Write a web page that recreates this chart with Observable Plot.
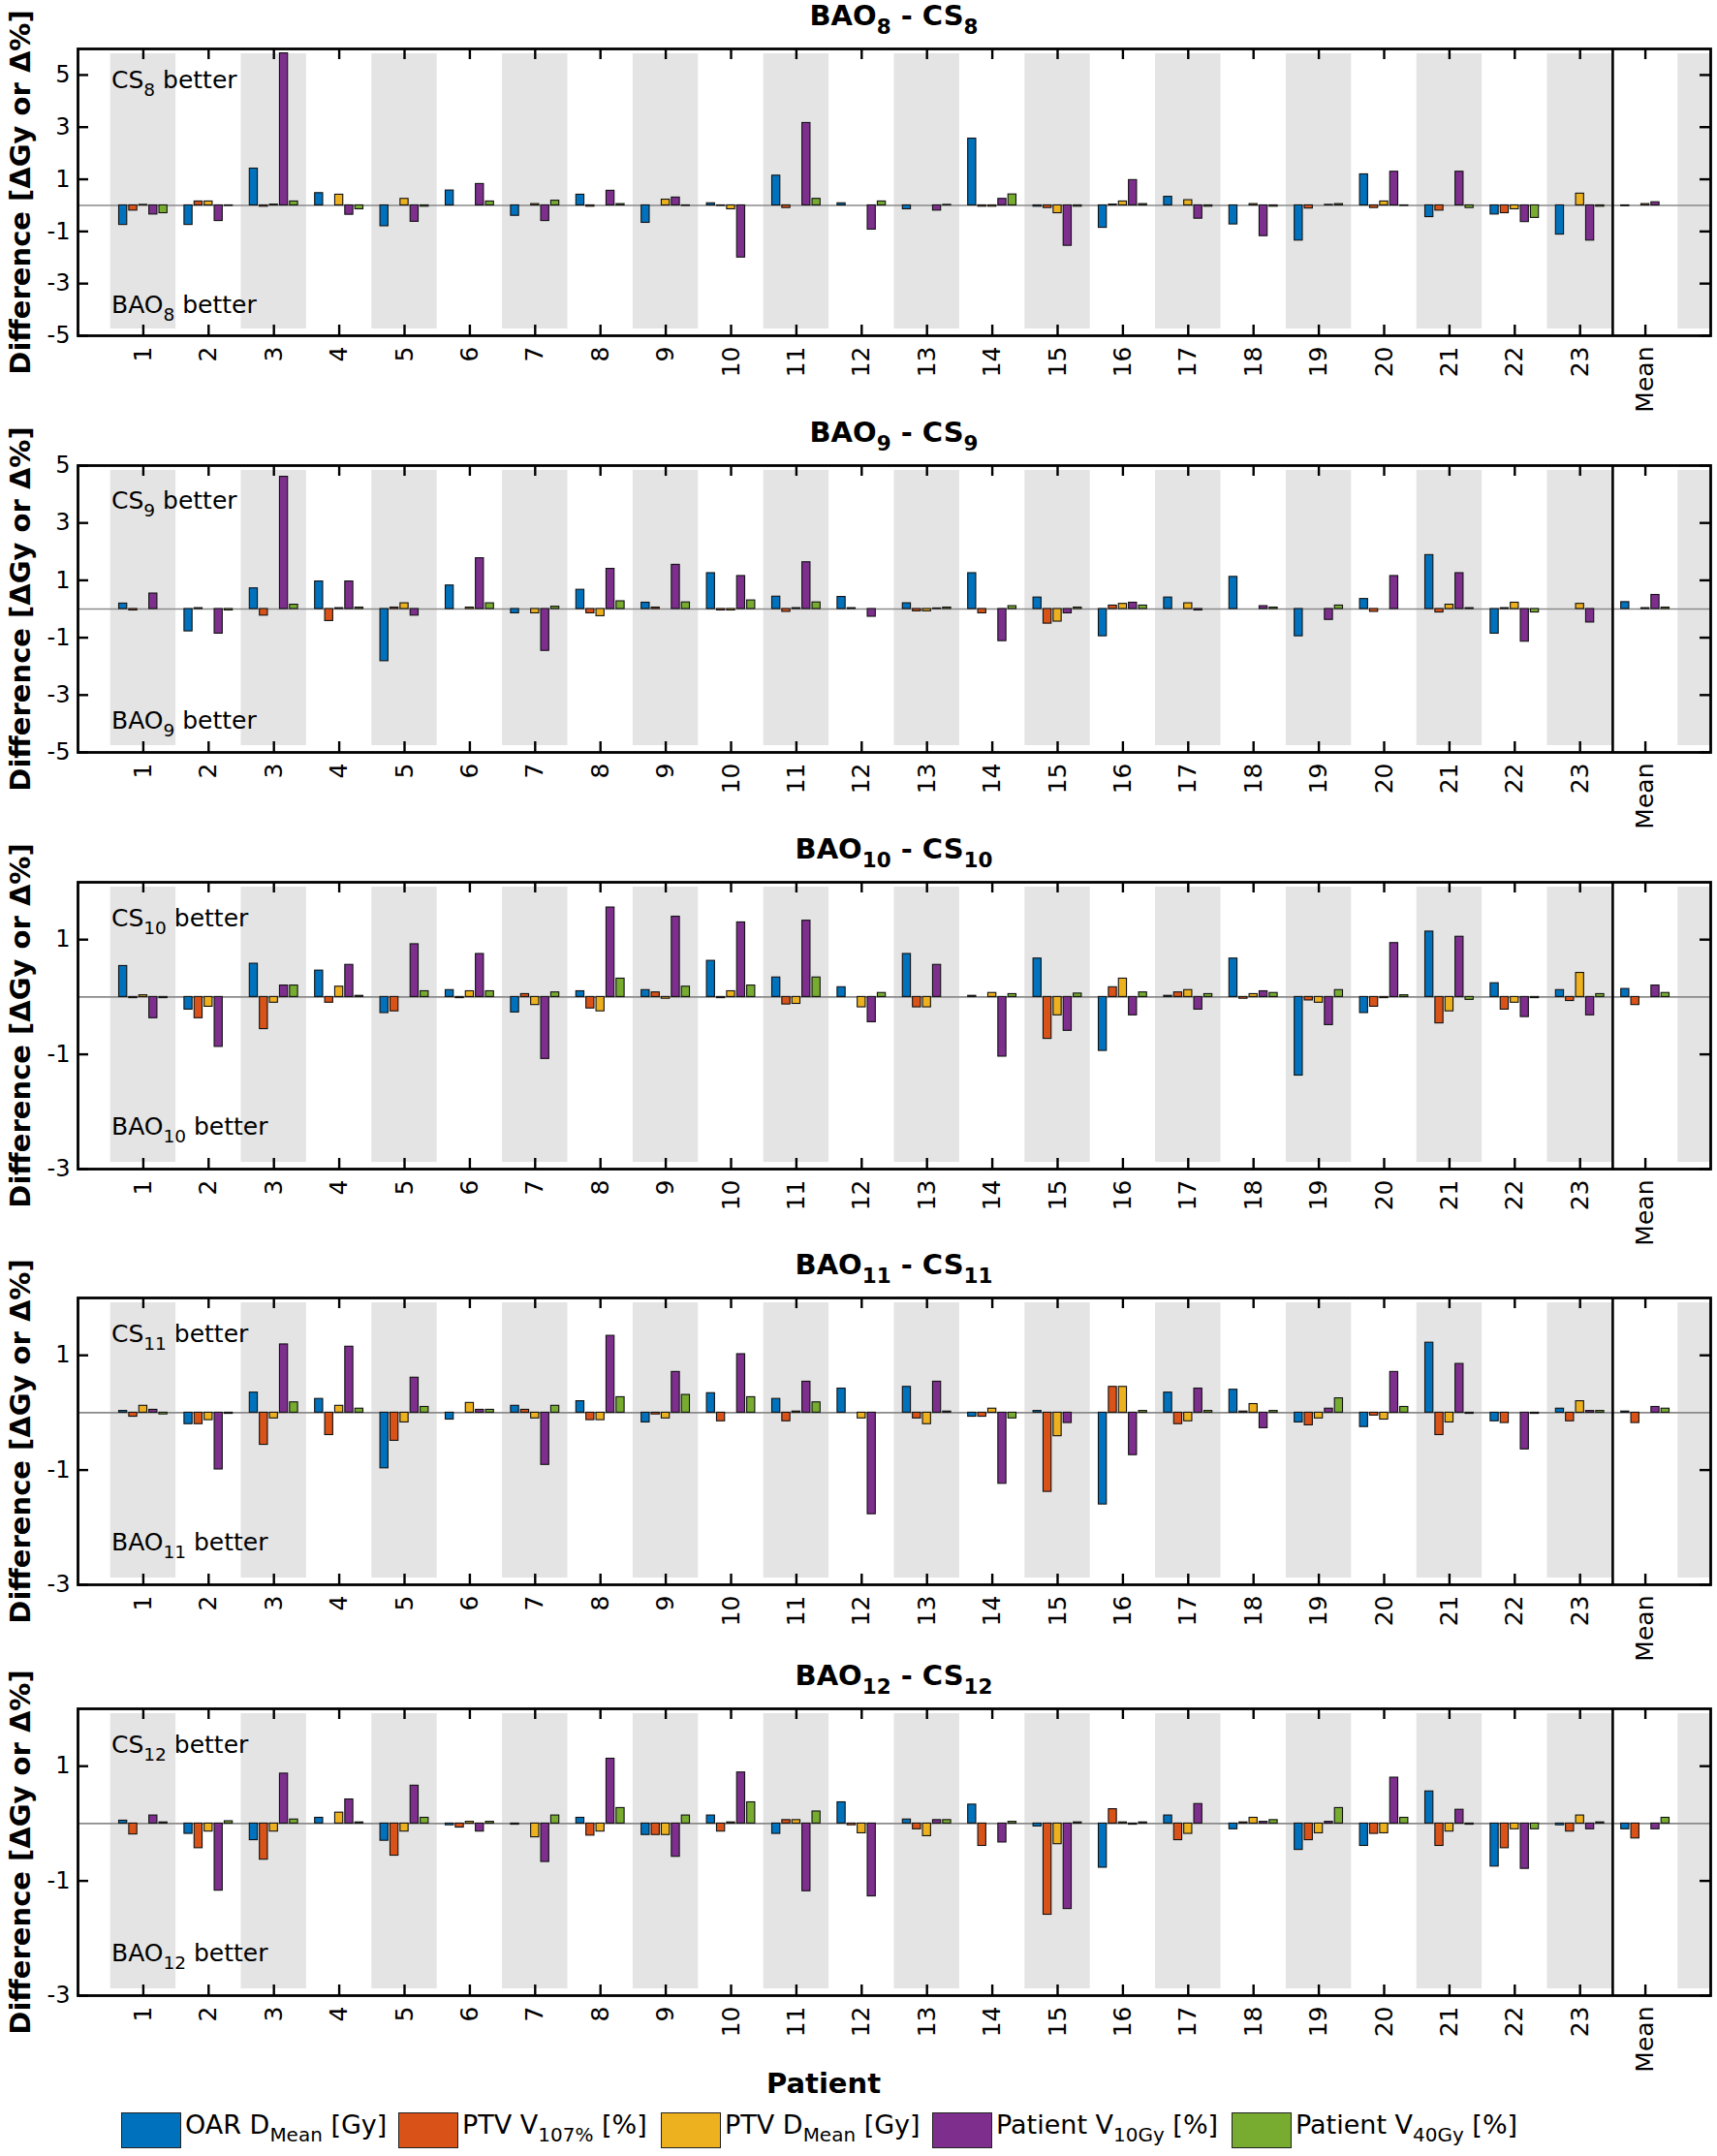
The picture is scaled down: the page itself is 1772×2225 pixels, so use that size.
<!DOCTYPE html>
<html>
<head>
<meta charset="utf-8">
<script src="https://cdn.jsdelivr.net/npm/d3@7"></script>
<script src="https://cdn.jsdelivr.net/npm/@observablehq/plot@0.6"></script>
<style>
  html, body { margin: 0; padding: 0; background: #fff; }
  body { width: 1772px; height: 2225px; position: relative; overflow: hidden; font-family: "DejaVu Sans", sans-serif; color: #000; }
  .panel { position: absolute; left: 0; }
  .ov { position: absolute; white-space: nowrap; line-height: 1; }
  .ov sub { vertical-align: -0.42em; font-size: 0.74em; line-height: 0; }
  .title { font-weight: bold; font-size: 29px; transform: translateX(-50%); }
  .annot { font-size: 25px; }
  .leg-box { position: absolute; width: 60px; height: 35px; border: 1.5px solid #222; }
  .leg-text { font-size: 27px; }
</style>
</head>
<body>
<script>
// ---------------- DATA ----------------
const patients = ["1","2","3","4","5","6","7","8","9","10","11","12","13","14","15","16","17","18","19","20","21","22","23","Mean"];
const seriesNames = ["OAR DMean [Gy]", "PTV V107% [%]", "PTV DMean [Gy]", "Patient V10Gy [%]", "Patient V40Gy [%]"];
const legendMain = ["OAR D", "PTV V", "PTV D", "Patient V", "Patient V"];
const legendSub = ["Mean", "107%", "Mean", "10Gy", "40Gy"];
const legendUnit = ["[Gy]", "[%]", "[Gy]", "[%]", "[%]"];
const seriesColors = ["#0072BD", "#D95319", "#EDB120", "#7E2F8E", "#77AC30"];
const panelSubs = ["8", "9", "10", "11", "12"];
const yDomains = [[-5, 6], [-5, 5], [-3, 2], [-3, 2], [-3, 2]];
const yTickValues = [[-5, -3, -1, 1, 3, 5], [-5, -3, -1, 1, 3, 5], [-3, -1, 1], [-3, -1, 1], [-3, -1, 1]];

// BAO8 - CS8
const bao8_oar    = [-0.75,-0.75,1.41,0.47,-0.8,0.57,-0.4,0.41,-0.67,0.08,1.14,0.08,-0.15,2.56,-0.05,-0.86,0.33,-0.73,-1.35,1.19,-0.45,-0.35,-1.12,-0.03];
const bao8_ptv107 = [-0.2,0.15,-0.05,0,0,0,0,-0.05,0,-0.02,-0.1,0,0,-0.05,-0.1,0.03,0,0,-0.12,-0.1,-0.2,-0.3,0,0];
const bao8_ptvD   = [0.02,0.15,0.03,0.41,0.25,0,0.05,0,0.22,-0.15,0,0,0,-0.05,-0.3,0.15,0.2,0.05,0,0.15,0,-0.15,0.45,0.05];
const bao8_v10    = [-0.35,-0.6,5.83,-0.36,-0.63,0.82,-0.6,0.56,0.3,-2.0,3.16,-0.93,-0.2,0.25,-1.55,0.97,-0.51,-1.18,0.02,1.29,1.29,-0.64,-1.35,0.12];
const bao8_v40    = [-0.3,-0.02,0.15,-0.15,-0.05,0.15,0.18,0.05,-0.02,0,0.25,0.15,0.02,0.42,-0.05,0.05,-0.05,-0.05,0.05,-0.02,-0.1,-0.48,-0.05,0];

// BAO9 - CS9
const bao9_oar    = [0.19,-0.78,0.72,0.96,-1.82,0.82,-0.15,0.67,0.22,1.25,0.43,0.42,0.2,1.25,0.4,-0.95,0.4,1.12,-0.95,0.35,1.88,-0.86,0,0.24];
const bao9_ptv107 = [-0.05,0.03,-0.23,-0.42,0.05,0,0,-0.15,0.05,-0.05,-0.1,0.03,-0.08,-0.15,-0.51,0.12,0,0,0,-0.1,-0.12,0.03,0,0];
const bao9_ptvD   = [0,0,0,0.03,0.2,0.05,-0.15,-0.25,0,-0.05,0.03,0,-0.08,0,-0.44,0.18,0.2,0,0,0,0.15,0.22,0.18,0.03];
const bao9_v10    = [0.54,-0.86,4.61,0.96,-0.23,1.77,-1.46,1.4,1.54,1.15,1.63,-0.27,0.02,-1.12,-0.15,0.22,-0.05,0.1,-0.38,1.15,1.25,-1.14,-0.47,0.49];
const bao9_v40    = [0,-0.05,0.15,0.05,0,0.2,0.08,0.27,0.23,0.3,0.23,0,0.05,0.1,0.05,0.12,0,0.05,0.12,0,0.03,-0.12,0,0.05];

// BAO10 - CS10
const bao10_oar    = [0.54,-0.22,0.58,0.46,-0.28,0.12,-0.27,0.1,0.12,0.63,0.34,0.17,0.75,0.02,0.67,-0.94,0.02,0.67,-1.37,-0.28,1.14,0.24,0.12,0.14];
const bao10_ptv107 = [-0.02,-0.37,-0.56,-0.1,-0.25,-0.02,0.05,-0.2,0.08,-0.02,-0.13,0,-0.18,0,-0.73,0.17,0.08,-0.03,-0.06,-0.17,-0.46,-0.22,-0.07,-0.14];
const bao10_ptvD   = [0.03,-0.17,-0.1,0.18,0,0.1,-0.14,-0.25,-0.03,0.1,-0.12,-0.18,-0.18,0.07,-0.32,0.32,0.12,0.05,-0.1,-0.02,-0.25,-0.1,0.42,0];
const bao10_v10    = [-0.37,-0.87,0.2,0.56,0.92,0.75,-1.08,1.56,1.4,1.3,1.33,-0.44,0.56,-1.04,-0.59,-0.32,-0.22,0.1,-0.49,0.94,1.05,-0.35,-0.32,0.2];
const bao10_v40    = [-0.02,0,0.2,0.02,0.1,0.1,0.08,0.32,0.18,0.2,0.34,0.07,0,0.05,0.06,0.08,0.05,0.07,0.12,0.03,-0.05,-0.02,0.05,0.07];

// BAO11 - CS11
const bao11_oar    = [0.03,-0.2,0.35,0.24,-0.97,-0.12,0.12,0.2,-0.17,0.34,0.24,0.42,0.45,-0.07,0.03,-1.6,0.35,0.4,-0.17,-0.25,1.22,-0.15,0.07,0.02];
const bao11_ptv107 = [-0.07,-0.2,-0.56,-0.39,-0.49,0,0.05,-0.13,-0.03,-0.15,-0.15,0,-0.1,-0.07,-1.38,0.45,-0.2,0.02,-0.22,-0.05,-0.39,-0.18,-0.15,-0.18];
const bao11_ptvD   = [0.12,-0.13,-0.1,0.12,-0.17,0.17,-0.1,-0.13,-0.1,0,0.02,-0.1,-0.2,0.07,-0.41,0.45,-0.15,0.15,-0.1,-0.12,-0.17,0,0.2,0];
const bao11_v10    = [0.05,-0.99,1.19,1.15,0.61,0.05,-0.91,1.34,0.71,1.02,0.54,-1.77,0.54,-1.24,-0.18,-0.74,0.42,-0.27,0.07,0.71,0.85,-0.64,0.03,0.1];
const bao11_v40    = [-0.03,-0.02,0.18,0.07,0.1,0.05,0.12,0.27,0.31,0.27,0.18,0,0.02,-0.1,0,0.03,0.03,0.03,0.25,0.1,-0.02,-0.02,0.03,0.07];

// BAO12 - CS12
const bao12_oar    = [0.05,-0.18,-0.29,0.1,-0.3,-0.03,-0.02,0.1,-0.2,0.14,-0.18,0.37,0.07,0.33,-0.05,-0.77,0.14,-0.1,-0.46,-0.39,0.56,-0.75,-0.03,-0.1];
const bao12_ptv107 = [-0.19,-0.43,-0.63,0,-0.56,-0.07,0,-0.21,-0.2,-0.14,0.06,-0.03,-0.1,-0.39,-1.59,0.25,-0.29,0.02,-0.29,-0.18,-0.39,-0.43,-0.14,-0.26];
const bao12_ptvD   = [0,-0.14,-0.14,0.19,-0.14,0.03,-0.24,-0.14,-0.2,0.02,0.06,-0.17,-0.22,0,-0.36,0.02,-0.18,0.1,-0.17,-0.17,-0.14,-0.1,0.14,0];
const bao12_v10    = [0.14,-1.17,0.87,0.42,0.66,-0.14,-0.67,1.13,-0.58,0.89,-1.18,-1.27,0.06,-0.33,-1.49,-0.02,0.34,0.03,0.03,0.8,0.24,-0.79,-0.1,-0.1];
const bao12_v40    = [0.02,0.04,0.07,0.02,0.1,0.03,0.14,0.27,0.14,0.37,0.21,0,0.06,0.03,0.02,0.02,0,0.06,0.27,0.1,-0.02,-0.1,0.02,0.1];

const panelData = [
  [bao8_oar, bao8_ptv107, bao8_ptvD, bao8_v10, bao8_v40],
  [bao9_oar, bao9_ptv107, bao9_ptvD, bao9_v10, bao9_v40],
  [bao10_oar, bao10_ptv107, bao10_ptvD, bao10_v10, bao10_v40],
  [bao11_oar, bao11_ptv107, bao11_ptvD, bao11_v10, bao11_v40],
  [bao12_oar, bao12_ptv107, bao12_ptvD, bao12_v10, bao12_v40]
];

// ---------------- LAYOUT ----------------
const W = 1772, PH = 428, MT = 50, MB = 82, ML = 80, MR = 7;
const frameH = PH - MT - MB;
const xDomain = [0, 25];
const pxPerX = (W - ML - MR) / (xDomain[1] - xDomain[0]);
const panelTops = [0, 430, 860, 1289, 1713];
const annTop = [31, 35, 36, 36, 36];
const annBot = [33, 34, 45, 45, 45];
const barStep = 0.154, barW = 0.123;
const bandCenters = d3.range(1, 26, 2);

function overlay(html, cls, left, top) {
  const d = document.createElement("div");
  d.className = "ov " + cls;
  d.innerHTML = html;
  d.style.left = left + "px";
  d.style.top = top + "px";
  document.body.appendChild(d);
  return d;
}

panelData.forEach((series, k) => {
  const dom = yDomains[k];
  const span = dom[1] - dom[0];
  const pxPerY = frameH / span;
  const rows = [];
  series.forEach((vals, si) => vals.forEach((v, pi) => rows.push({pos: pi + 1, si, name: seriesNames[si], v})));
  const tickLenX = 11 / pxPerX;
  const tickLenY = 11 / pxPerY;
  const xtPos = d3.range(1, 25);

  const chart = Plot.plot({
    width: W, height: PH,
    marginTop: MT, marginBottom: MB, marginLeft: ML, marginRight: MR,
    style: {fontFamily: "DejaVu Sans", background: "transparent", overflow: "visible"},
    x: {domain: xDomain, axis: null},
    y: {domain: dom, axis: null},
    color: {domain: seriesNames, range: seriesColors},
    marks: [
      Plot.rect(bandCenters, {x1: d => d - 0.5, x2: d => d + 0.5, fill: "#e4e4e4", insetTop: 5, insetBottom: 7, clip: true}),
      Plot.ruleY([0], {stroke: "#8a8a8a", strokeWidth: 1.6}),
      Plot.rect(rows, {
        x1: d => d.pos + (d.si - 2) * barStep - barW / 2,
        x2: d => d.pos + (d.si - 2) * barStep + barW / 2,
        y1: 0, y2: "v", fill: "name", stroke: "#111", strokeWidth: 1.1
      }),
      Plot.ruleX([23.5], {stroke: "#000", strokeWidth: 2.6}),
      // inward ticks bottom / top
      Plot.ruleX(xtPos, {y1: dom[0], y2: dom[0] + tickLenY, stroke: "#000", strokeWidth: 2.4}),
      Plot.ruleX(xtPos, {y1: dom[1], y2: dom[1] - tickLenY, stroke: "#000", strokeWidth: 2.4}),
      // inward ticks left / right
      Plot.ruleY(yTickValues[k], {x1: xDomain[0], x2: xDomain[0] + tickLenX, stroke: "#000", strokeWidth: 2.4}),
      Plot.ruleY(yTickValues[k], {x1: xDomain[1], x2: xDomain[1] - tickLenX, stroke: "#000", strokeWidth: 2.4}),
      Plot.frame({stroke: "#000", strokeWidth: 2.8}),
      // y tick labels
      Plot.text(yTickValues[k], {x: xDomain[0] - 8 / pxPerX, y: d => d, text: d => String(d), textAnchor: "end", fontSize: 24, fill: "#000"}),
      // x tick labels (rotated)
      Plot.text(patients.map((t, i) => ({t, p: i + 1})), {
        x: "p", y: dom[0] - 11 / pxPerY, text: "t", rotate: -90, textAnchor: "end", lineAnchor: "middle", fontSize: 25, fill: "#000"
      }),
      // y axis label
      Plot.text(["Difference [\u0394Gy or \u0394%]"], {
        x: xDomain[0] - 59 / pxPerX, y: (dom[0] + dom[1]) / 2, rotate: -90, fontSize: 29, fontWeight: "bold", fill: "#000"
      })
    ]
  });
  const wrap = document.createElement("div");
  wrap.className = "panel";
  wrap.style.top = panelTops[k] + "px";
  wrap.appendChild(chart);
  document.body.appendChild(wrap);

  const ft = panelTops[k] + MT;
  const fb = ft + frameH;
  const s = panelSubs[k];
  overlay(`BAO<sub>${s}</sub> - CS<sub>${s}</sub>`, "title", ML + (W - ML - MR) / 2, ft - 36 - 12);
  overlay(`CS<sub>${s}</sub> better`, "annot", 115, ft + annTop[k] - 11);
  overlay(`BAO<sub>${s}</sub> better`, "annot", 115, fb - annBot[k] - 11);
});

// x axis title
overlay("Patient", "title", 850, 2136);

// legend
const legLeft = [125, 411, 682, 962, 1271];
seriesNames.forEach((n, i) => {
  const b = document.createElement("div");
  b.className = "leg-box";
  b.style.left = legLeft[i] + "px";
  b.style.top = "2180px";
  b.style.background = seriesColors[i];
  document.body.appendChild(b);
  overlay(`${legendMain[i]}<sub>${legendSub[i]}</sub> ${legendUnit[i]}`, "leg-text", legLeft[i] + 66, 2179);
});
</script>
</body>
</html>
